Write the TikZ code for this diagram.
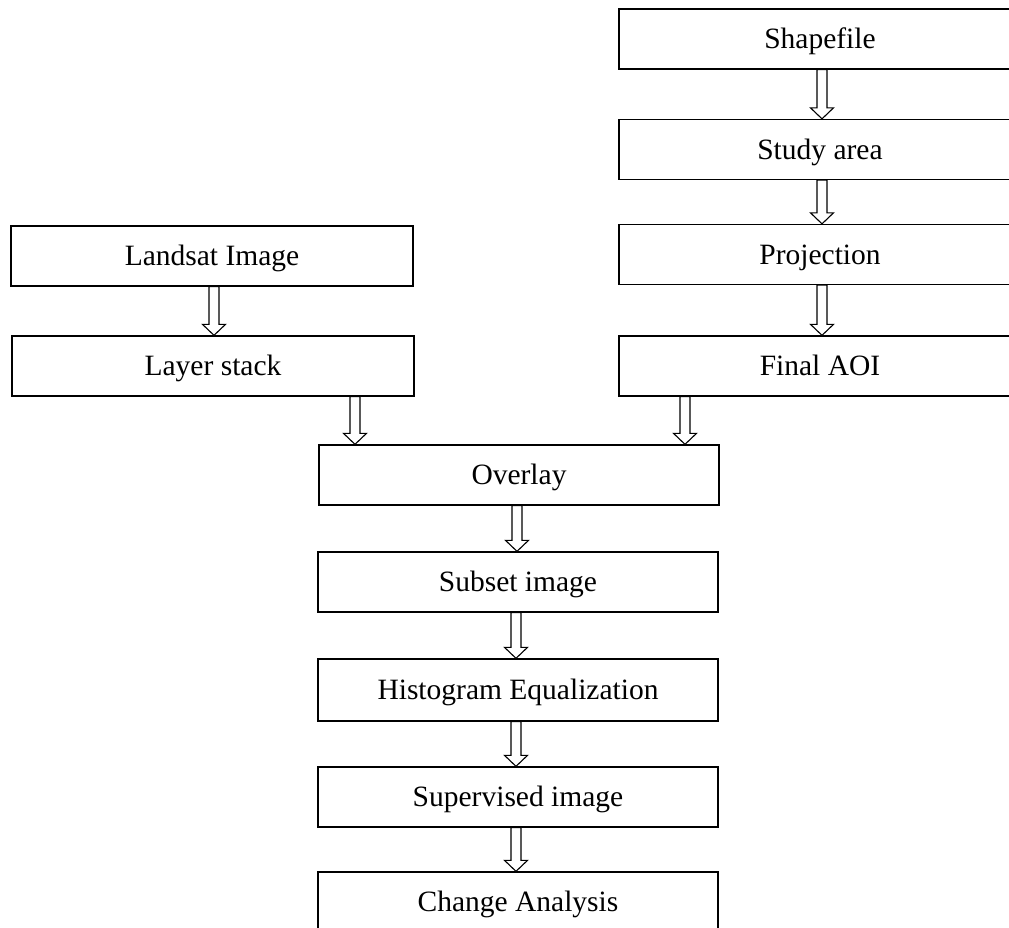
\documentclass[tikz,border=0pt]{standalone}
\usepackage{fontspec}
\setmainfont{Liberation Serif}
\usetikzlibrary{calc}
\tikzset{
  stepbox/.style={draw=black, line width=1.3pt, minimum width=402pt, minimum height=60pt,
    inner sep=0pt, text height=19.5pt, text depth=0pt, font=\fontsize{29.5}{34}\selectfont, fill=white},
  arrowline/.style={draw=black, line width=1.1pt, fill=white, line join=miter}
}
\newcommand\barrow[2]{%
  \draw[arrowline] let \p1=(#1), \p2=(#2) in
    (\x1-5pt,\y1) -- (\x1+5pt,\y1) -- (\x1+5pt,\y2+11pt) -- (\x1+11.5pt,\y2+11pt)
    -- (\x1,\y2) -- (\x1-11.5pt,\y2+11pt) -- (\x1-5pt,\y2+11pt) -- cycle;}
\begin{document}
\begin{tikzpicture}[x=1pt,y=-1pt]
\clip (0,0) rectangle (1009,928);
\fill[white] (0,0) rectangle (1009,928);
\node[stepbox] (shp) at (820,39) {Shapefile};
\node[stepbox] (sa)  at (820,149.5) {Study area};
\node[stepbox] (pr)  at (820,254.5) {Projection};
\node[stepbox] (aoi) at (820,366) {Final AOI};
\node[stepbox] (ls)  at (212,256) {Landsat Image};
\node[stepbox] (lst) at (213,366) {Layer stack};
\node[stepbox, minimum width=400pt] (ov) at (519,475) {Overlay};
\node[stepbox, minimum width=400pt] (sub) at (518,582) {Subset image};
\node[stepbox, minimum width=400pt, minimum height=62pt] (he) at (518,690) {Histogram Equalization};
\node[stepbox, minimum width=400pt] (sup) at (518,797) {Supervised image};
\node[stepbox, minimum width=400pt] (ca) at (518,902) {Change Analysis};
\barrow{[xshift=2pt]shp.south}{sa.north}
\barrow{[xshift=2pt]sa.south}{pr.north}
\barrow{[xshift=2pt]pr.south}{aoi.north}
\barrow{[xshift=2pt]ls.south}{lst.north}
\barrow{[xshift=142pt]lst.south}{ov.north}
\barrow{[xshift=-135pt]aoi.south}{ov.north}
\barrow{[xshift=-2pt]ov.south}{sub.north}
\barrow{[xshift=-2pt]sub.south}{he.north}
\barrow{[xshift=-2pt]he.south}{sup.north}
\barrow{[xshift=-2pt]sup.south}{ca.north}
\end{tikzpicture}
\end{document}
